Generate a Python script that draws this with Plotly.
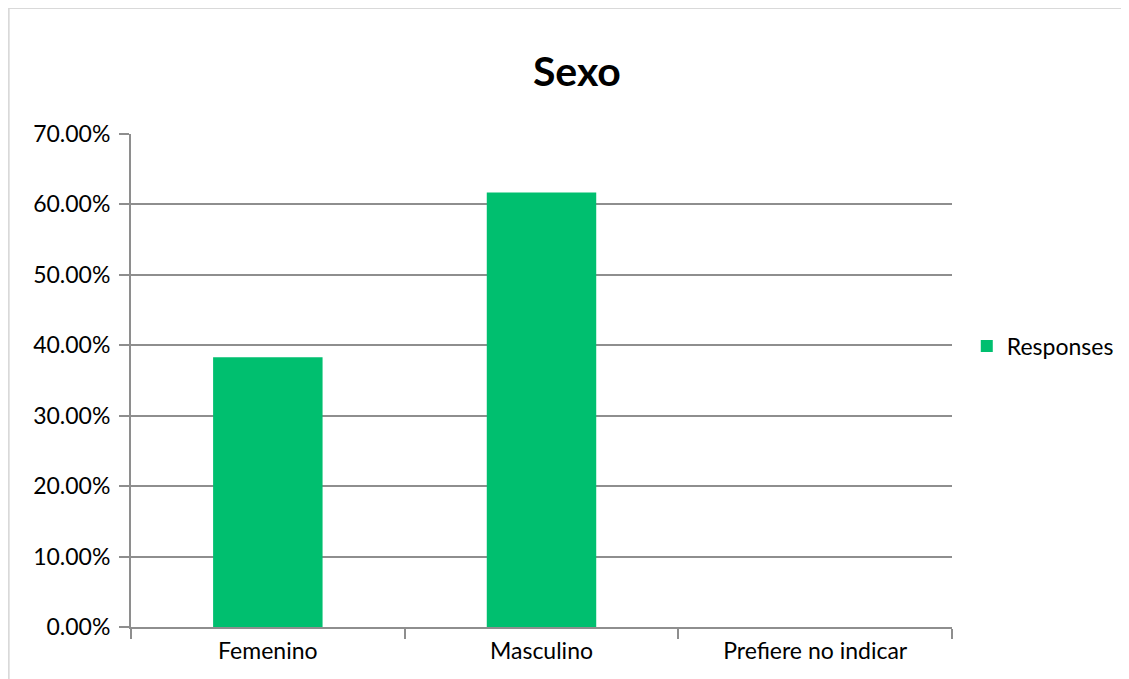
import plotly.graph_objects as go

# Data
categories = ["Femenino", "Masculino", "Prefiere no indicar"]
responses = [0.383, 0.617, 0.0]
y_ticks = [0, 0.1, 0.2, 0.3, 0.4, 0.5, 0.6, 0.7]

green = "#00bf6f"
grid = "#8e8e8e"
font_family = "Lato, 'Open Sans', sans-serif"

fig = go.Figure()

fig.add_trace(go.Bar(
    x=categories,
    y=responses,
    name="Responses",
    marker=dict(color=green, line=dict(width=0)),
    width=0.4,
    hoverinfo="x+y",
))

# light frame around the chart (top and left edges visible)
fig.add_shape(type="line", xref="paper", yref="paper",
              x0=-0.149, x1=1.4, y0=1.2556, y1=1.2556,
              line=dict(color="#d9d9d9", width=2))
fig.add_shape(type="line", xref="paper", yref="paper",
              x0=-0.149, x1=-0.149, y0=-0.2, y1=1.2556,
              line=dict(color="#d9d9d9", width=2))

fig.update_layout(
    width=1121,
    height=671,
    margin=dict(l=123, r=177, t=126, b=52, autoexpand=False),
    plot_bgcolor="white",
    paper_bgcolor="white",
    font=dict(family=font_family, size=23, color="#000000"),
    title=dict(
        text="<b>Sexo</b>",
        x=0.5075, xanchor="center",
        y=0.905, yanchor="middle",
        font=dict(family=font_family, size=41, color="#000000"),
    ),
    showlegend=True,
    legend=dict(
        x=1.018, xanchor="left",
        y=0.57, yanchor="middle",
        font=dict(size=23),
        itemwidth=30,
    ),
    xaxis=dict(
        showgrid=False,
        showline=True,
        linecolor=grid,
        linewidth=2,
        ticks="outside",
        tickson="boundaries",
        ticklen=10,
        tickcolor=grid,
        tickwidth=2,
        tickfont=dict(size=23),
        ticklabelstandoff=2,
    ),
    yaxis=dict(
        range=[0, 0.7],
        tickvals=y_ticks,
        tickformat=".2%",
        showgrid=True,
        gridcolor=grid,
        gridwidth=1.5,
        zeroline=False,
        showline=True,
        linecolor=grid,
        linewidth=2,
        ticks="outside",
        ticklen=10,
        tickcolor=grid,
        tickwidth=2,
        tickfont=dict(size=23),
        ticklabelstandoff=4,
    ),
)

fig.write_html("out.html")
